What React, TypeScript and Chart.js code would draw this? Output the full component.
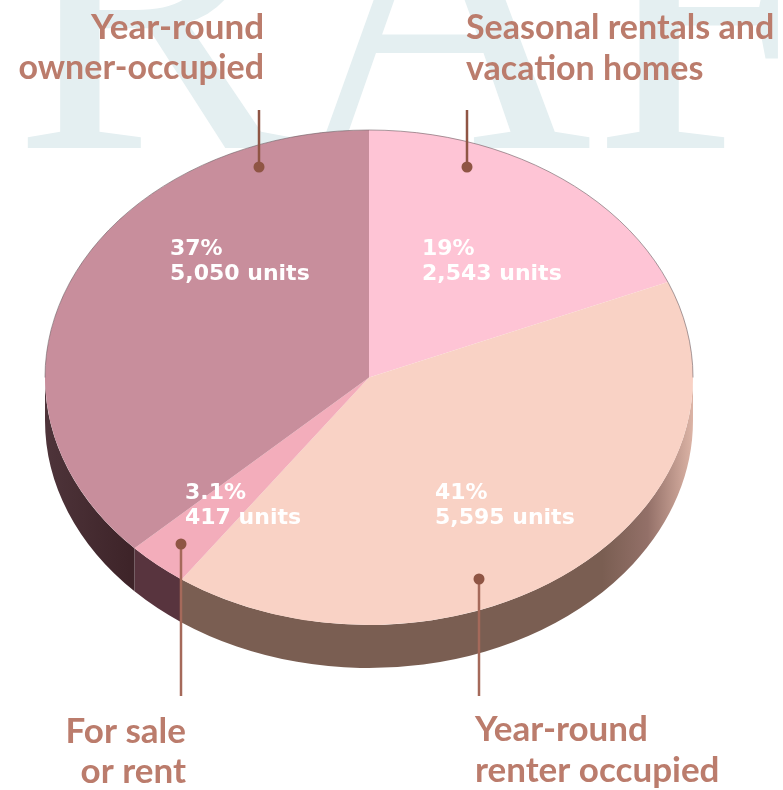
import React, { useEffect, useRef } from "react";
import { Chart, registerables } from "chart.js";

Chart.register(...registerables);

const categories = [
  "Seasonal rentals and vacation homes",
  "Year-round renter occupied",
  "For sale or rent",
  "Year-round owner-occupied",
];
const units = [2543, 5595, 417, 5050];
const percentLabels = ["19%", "41%", "3.1%", "37%"];
const unitLabels = ["2,543 units", "5,595 units", "417 units", "5,050 units"];
const faceColors = ["#fec4d5", "#f9d2c5", "#f3adbb", "#c88e9c"];

const W = 783;
const H = 790;
const CX = 369;
const CY = 377.5;
const RX = 324;
const RY = 247.5;
const DEPTH = 43;
const SY = RY / RX;

const valueAnchors = [
  [422, 255],
  [435, 499],
  [185, 499],
  [170, 255],
];

const valueFont = "bold 22px 'DejaVu Sans'";
const titleColor = "#bb7c6c";

const titles: [string, number, number, CanvasTextAlign, number][] = [
  ["Year-round", 264, 39, "right", 35],
  ["owner-occupied", 264, 79, "right", 34],
  ["Seasonal rentals and", 466, 39, "left", 34],
  ["vacation homes", 466, 80, "left", 34],
  ["For sale", 186, 743, "right", 35],
  ["or rent", 186, 783, "right", 35],
  ["Year-round", 475, 741, "left", 35],
  ["renter occupied", 475, 782, "left", 35],
];

const callouts: [number, number, number, string][] = [
  [259, 110, 167, "#8f5544"],
  [467, 110, 167, "#8f5544"],
  [181, 696, 544, "#a5695a"],
  [479, 696, 579, "#a5695a"],
];

const renderPlugin = {
  id: "tiltedPie",
  beforeDraw(chart: any) {
    const ctx = chart.ctx;
    ctx.save();
    ctx.fillStyle = "#ffffff";
    ctx.fillRect(0, 0, W, H);
    ctx.fillStyle = "#e4eff1";
    ctx.font = "417px 'Liberation Serif'";
    ctx.textAlign = "left";
    ctx.textBaseline = "alphabetic";
    ctx.fillText("DRAFT", -288, 148);
    ctx.restore();
  },
  beforeDatasetsDraw(chart: any) {
    const ctx = chart.ctx;
    const arcs = chart.getDatasetMeta(0).data;
    arcs.forEach((arc: any, i: number) => {
      const a0 = Math.max(arc.startAngle, 0);
      const a1 = Math.min(arc.endAngle, Math.PI);
      if (a1 <= a0) return;
      const g = ctx.createLinearGradient(CX - RX, 0, CX + RX, 0);
      if (i === 2) {
        g.addColorStop(0, "#58343e");
        g.addColorStop(1, "#58343e");
      } else if (i === 3) {
        g.addColorStop(0, "#4e343a");
        g.addColorStop(0.13, "#3e2429");
        g.addColorStop(1, "#3e2429");
      } else {
        g.addColorStop(0, "#7a5e52");
        g.addColorStop(0.86, "#7a5e52");
        g.addColorStop(0.93, "#937068");
        g.addColorStop(0.975, "#c39c90");
        g.addColorStop(1, "#dcb4a6");
      }
      ctx.save();
      ctx.beginPath();
      ctx.ellipse(CX, CY, RX, RY, 0, a0, a1);
      ctx.ellipse(CX, CY + DEPTH, RX, RY, 0, a1, a0, true);
      ctx.closePath();
      ctx.fillStyle = g;
      ctx.fill();
      ctx.restore();
    });
    ctx.save();
    ctx.translate(CX, CY);
    ctx.scale(1, SY);
    ctx.translate(-CX, -CY);
  },
  afterDatasetsDraw(chart: any) {
    const ctx = chart.ctx;
    ctx.restore();
    ctx.save();
    ctx.beginPath();
    ctx.ellipse(CX, CY, RX, RY, 0, Math.PI, 2 * Math.PI);
    ctx.strokeStyle = "rgba(110,95,100,0.6)";
    ctx.lineWidth = 1;
    ctx.stroke();
    ctx.restore();
  },
  afterDraw(chart: any) {
    const ctx = chart.ctx;
    ctx.save();
    ctx.textBaseline = "alphabetic";
    ctx.font = valueFont;
    ctx.fillStyle = "#ffffff";
    ctx.textAlign = "left";
    valueAnchors.forEach(([x, y], i) => {
      ctx.fillText(percentLabels[i], x, y);
      ctx.fillText(unitLabels[i], x, y + 25);
    });
    ctx.fillStyle = titleColor;
    titles.forEach(([t, x, y, align, size]) => {
      ctx.font = `bold ${size}px Lato`;
      ctx.textAlign = align;
      ctx.fillText(t, x, y);
    });
    callouts.forEach(([x, y0, y1, color]) => {
      ctx.strokeStyle = color;
      ctx.lineWidth = 2.5;
      ctx.beginPath();
      ctx.moveTo(x, y0);
      ctx.lineTo(x, y1);
      ctx.stroke();
      ctx.fillStyle = "#8f5544";
      ctx.beginPath();
      ctx.arc(x, y1, 5.5, 0, Math.PI * 2);
      ctx.fill();
    });
    ctx.restore();
  },
};

export default function App() {
  const ref = useRef<HTMLCanvasElement>(null);
  useEffect(() => {
    document.body.style.margin = "0";
    const chart = new Chart(ref.current as HTMLCanvasElement, {
      type: "pie",
      data: {
        labels: categories,
        datasets: [{ data: units, backgroundColor: faceColors, borderWidth: 0 }],
      },
      options: {
        responsive: false,
        animation: false,
        events: [],
        layout: {
          padding: {
            left: CX - RX,
            right: W - CX - RX,
            top: CY - RX,
            bottom: H - CY - RX,
          },
        },
        plugins: { legend: { display: false }, tooltip: { enabled: false } },
      },
      plugins: [renderPlugin],
    } as any);
    return () => chart.destroy();
  }, []);
  return (
    <div style={{ position: "absolute", left: 0, top: 0, width: W, height: H, overflow: "hidden" }}>
      <canvas ref={ref} width={W} height={H} style={{ display: "block" }} />
    </div>
  );
}
